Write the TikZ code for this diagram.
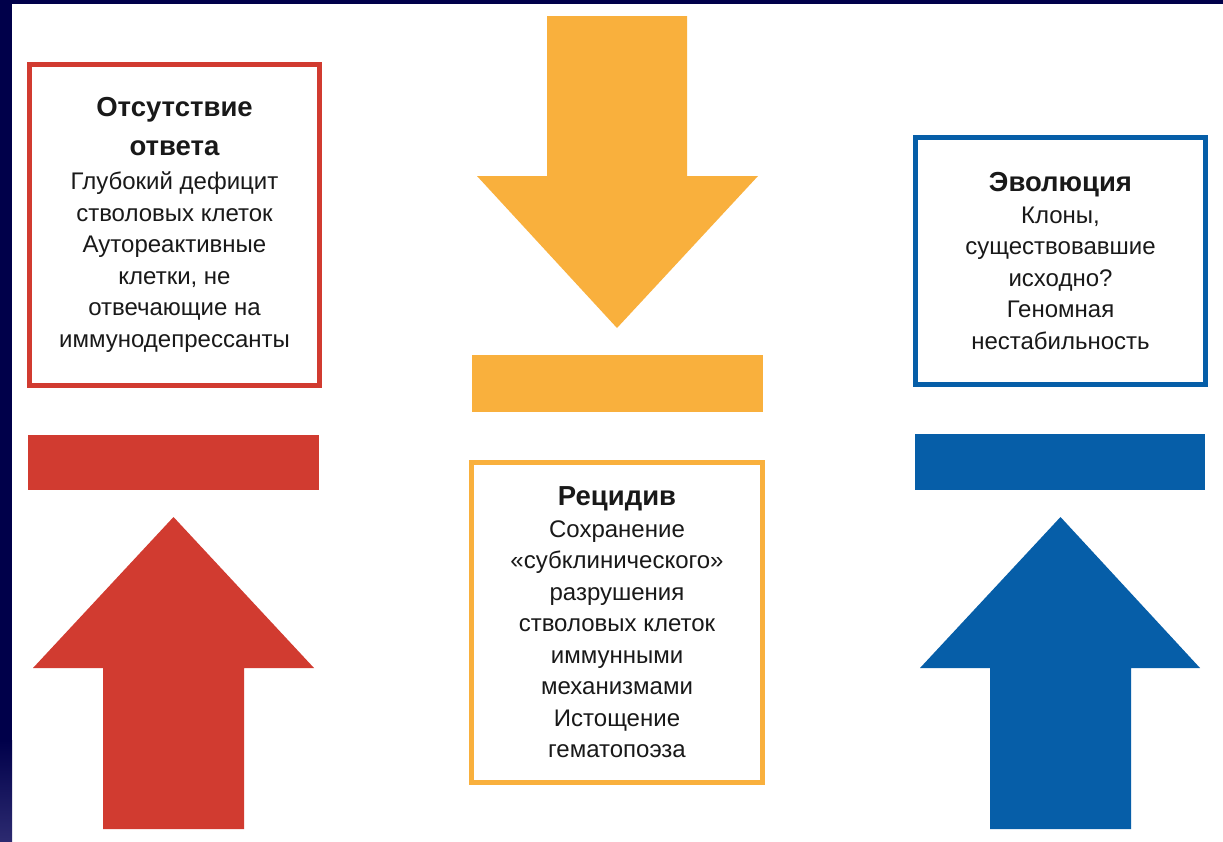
\documentclass[tikz,border=0pt]{standalone}
\usepackage{fontspec}
\setmainfont{Liberation Sans}

\definecolor{rouge}{HTML}{D13B30}
\definecolor{ambre}{HTML}{F9B03D}
\definecolor{bleu}{HTML}{065EA8}
\definecolor{marine}{HTML}{00004A}
\definecolor{marineClair}{HTML}{2C2A70}

\newcommand{\intitule}[1]{{\fontsize{27.5}{33}\selectfont\bfseries #1}}

\tikzset{
    cadre/.style={draw=#1, line width=5pt, fill=white, align=center, inner sep=0pt,
        text=black!90, font=\fontsize{24}{31.5}\selectfont},
}

\begin{document}
\begin{tikzpicture}[x=1pt, y=-1pt]
    % Fond et bordure
    \useasboundingbox (0,0) rectangle (1223,841);
    \fill[white] (0,0) rectangle (1223,841);
    \fill[marine] (0,0) rectangle (1223,4);
    \fill[marine] (0,0) rectangle (12,741);
    \shade[top color=marine, bottom color=marineClair] (0,740) rectangle (12,841);

    % Colonne gauche : absence de réponse
    \node[cadre=rouge, minimum width=290pt, minimum height=321pt] (absence) at (174.5,225)
        {\intitule{Отсутствие}\\[7pt] \intitule{ответа}\\[3pt] Глубокий дефицит\\ стволовых клеток\\
         Аутореактивные\\ клетки, не\\ отвечающие на\\ иммунодепрессанты};
    \fill[rouge] (28,435) rectangle (319,490);
    \fill[rouge] (103,829) -- (103,668) -- (33,668) -- (173.5,517) -- (314,668)
        -- (244,668) -- (244,829) -- cycle;

    % Colonne centrale : rechute
    \fill[ambre] (547,16) -- (687,16) -- (687,176) -- (758,176) -- (617,328)
        -- (477,176) -- (547,176) -- cycle;
    \fill[ambre] (472,355) rectangle (763,412);
    \node[cadre=ambre, minimum width=291pt, minimum height=320pt] (rechute) at (617,622.5)
        {\intitule{Рецидив}\\ Сохранение\\ «субклинического»\\ разрушения\\
         стволовых клеток\\ иммунными\\ механизмами\\ Истощение\\ гематопоэза};

    % Colonne droite : évolution
    \node[cadre=bleu, minimum width=290pt, minimum height=247pt] (evolution) at (1060.5,261)
        {\intitule{Эволюция}\\ Клоны,\\ существовавшие\\ исходно?\\ Геномная\\ нестабильность};
    \fill[bleu] (915,434) rectangle (1205,490);
    \fill[bleu] (990,829) -- (990,668) -- (920,668) -- (1060.5,517) -- (1200,668)
        -- (1131,668) -- (1131,829) -- cycle;
\end{tikzpicture}
\end{document}
